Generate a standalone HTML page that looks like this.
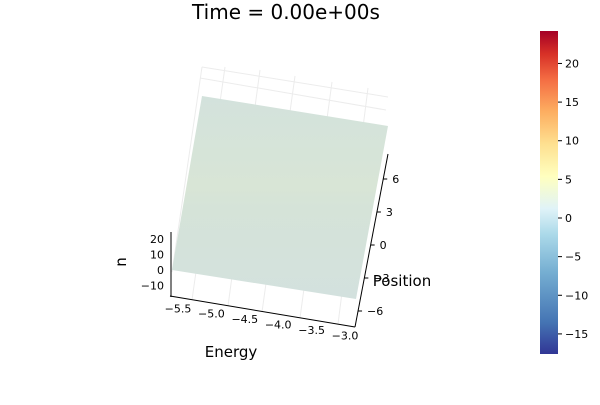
<!DOCTYPE html>
<html><head><meta charset="utf-8"><style>
body{margin:0;background:#fff}
text{font-family:"DejaVu Sans","Liberation Sans",sans-serif;fill:#000}
</style></head><body>
<svg width="600" height="400" viewBox="0 0 600 400">
<defs>
<linearGradient id="cb" x1="0" y1="1" x2="0" y2="0">
<stop offset="0" stop-color="#313695"/><stop offset="0.1" stop-color="#4575b4"/><stop offset="0.25" stop-color="#74add1"/><stop offset="0.37" stop-color="#abd9e9"/><stop offset="0.45" stop-color="#e0f3f8"/><stop offset="0.55" stop-color="#ffffbf"/><stop offset="0.65" stop-color="#fee090"/><stop offset="0.75" stop-color="#fdae61"/><stop offset="0.85" stop-color="#f46d43"/><stop offset="0.93" stop-color="#d73027"/><stop offset="1" stop-color="#a50026"/>
</linearGradient>
<linearGradient id="sf" x1="0" y1="0" x2="0" y2="1">
<stop offset="0" stop-color="#d3e2dc"/><stop offset="0.45" stop-color="#d8e5d6"/><stop offset="0.55" stop-color="#d5e3d8"/><stop offset="1" stop-color="#d3e1de"/>
</linearGradient>
</defs>
<text x="286" y="19" text-anchor="middle" font-size="20">Time = 0.00e+00s</text>
<g id="grid" stroke="#ececec" stroke-width="1" fill="none">
<path d="M202,67 L388,97 M200,78 L386,110 M202,67 L172,272 M225,67 L192,300 M260,70 L228,306 M295,76 L262,312 M332,82 L300,318 M368,88 L338,324"/>
</g>
<polygon points="202,96 388,126 356,299 172,270" fill="url(#sf)"/>
<g stroke="#000" stroke-width="1" fill="none">
<line x1="170" y1="296" x2="355" y2="327"/>
<line x1="355" y1="327" x2="388" y2="154"/>
<line x1="171" y1="232" x2="171" y2="297"/>
</g>
<g id="ticks" font-size="11"></g>
<text x="231" y="357" text-anchor="middle" font-size="15">Energy</text>
<text x="402" y="286" text-anchor="middle" font-size="15">Position</text>
<text x="126" y="262" text-anchor="middle" font-size="15" transform="rotate(-90 126 262)">n</text>
<rect x="540" y="31" width="18" height="323" fill="url(#cb)"/>
<g id="cbt" font-size="11"></g>
</svg>
<script>
const energyTicks=[-5.5,-5.0,-4.5,-4.0,-3.5,-3.0];
const positionTicks=[6,3,0,-3,-6];
const nTicks=[20,10,0,-10];
const cbTicks=[20,15,10,5,0,-5,-10,-15];
const cbRange=[-17.6,24.2];
const NS="http://www.w3.org/2000/svg";
const fmt=v=>(v<0?"\u2212":"")+Math.abs(v);
function txt(g,x,y,s,anchor){const t=document.createElementNS(NS,"text");t.setAttribute("x",x);t.setAttribute("y",y);t.setAttribute("text-anchor",anchor);t.textContent=s;g.appendChild(t);return t;}
function ln(g,x1,y1,x2,y2){const l=document.createElementNS(NS,"line");l.setAttribute("x1",x1);l.setAttribute("y1",y1);l.setAttribute("x2",x2);l.setAttribute("y2",y2);l.setAttribute("stroke","#000");g.appendChild(l);return l;}
const g=document.getElementById("ticks");
const ex=v=>178+(v+5.5)/2.5*(345-178);
energyTicks.forEach(v=>{const x=ex(v),y=297+(x-170)*30/185;
const t=txt(g,x,y+14,(v<0?"\u2212":"")+Math.abs(v).toFixed(1),"middle");

});
const py=v=>245-v*(66/6);
positionTicks.forEach(v=>{const y=py(v),x=355+(327-y)*33/173;
const l=ln(g,x,y,x+4,y);


const t=txt(g,x+9,y+4,fmt(v),"start");

});
const ny=v=>270-v*1.55;
nTicks.forEach(v=>{const t=txt(g,164,ny(v)+4,fmt(v),"end");

});
const cg=document.getElementById("cbt");
const cy=v=>354-(v-cbRange[0])/(cbRange[1]-cbRange[0])*323;
cbTicks.forEach(v=>{const y=cy(v);const l=ln(cg,558,y,562,y);


const t=txt(cg,565,y+4,fmt(v),"start");

});
</script>
</body></html>
